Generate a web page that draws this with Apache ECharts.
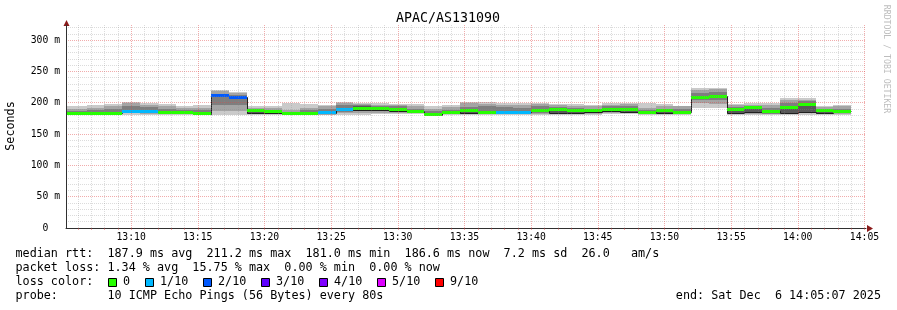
<!DOCTYPE html>
<html><head><meta charset="utf-8">
<script src="https://cdn.jsdelivr.net/npm/echarts@6/dist/echarts.min.js"></script>
<style>html,body{margin:0;padding:0;background:#fff}#c{width:897px;height:310px}</style>
</head><body><div id="c"></div>
<script>
// time in seconds after 13:00:00; each value is the end of an 80 s step
const binEnd = [400,480,560,640,720,800,880,960,1040,1120,1200,1280,1360,1440,1520,1600,1680,1760,1840,1920,2000,2080,2160,2240,2320,2400,2480,2560,2640,2720,2800,2880,2960,3040,3120,3200,3280,3360,3440,3520,3600,3680,3760,3840];
// median rtt (ms)
const median = [183.5,183.5,183.5,186,186,185,184,183,211.2,208.5,187.5,185.5,183,183,184,188.5,190.5,191.5,189.5,186,181.0,185,188,185,184.7,184.7,187,188.8,188,187.8,189.5,188.8,185,187.5,185,208.5,210,189.5,192.5,186,193,197.5,188,186.6];
// lost pings out of 10
const loss = [0,0,0,1,1,0,0,0,2,2,0,0,0,0,1,1,0,0,0,0,0,0,0,0,1,1,0,0,0,0,0,0,0,0,0,0,0,0,0,0,0,0,0,0];
// smoke: outer band (lightest)
const smokeLo = [180,180,180,181,181,181,181,180,180,180,181,181,180,180,180.5,181,181,182,182.5,182,181,181,181,181,181,181,181,181,181,181,182,182,181,181,181,192,191,181,181,181,181,181,181,181];
const smokeHi = [194,196,198,201,199,198,195,197,220,217,195.5,195,199.5,198,197,201,200,199,198.5,198.5,194,196,201,201,200,200,200,198,198,197,199,200,199.5,198,195,223,224,198,199,199,207.5,207.5,195.5,197];
// second band
const midLo = [181,181,181,183,182,182,182,181,186,186,182,182,181,181,181,183,183,183,183.5,183,182,182,182,182,182,182,182,182,182,182,183,183,182,182,182,199,198,182,182,182,182,183,182,182];
const midHi = [190,192,194,199,197,194,192,192,218,215,192,191,188,192,194,199,198,197,196,195,190,193,199,198,197,197,198,196,195,194,197,198,192,194,194,221,222,196,197,196,205,205,193,194];
// third band
const darkLo = [182,182,182,185,184,183,183,181,196,196,182.5,182.5,181.5,182,183,185,186,186,186,184,182,183,182,183,184,184,183.5,183,183,183,185,185,183,183,183,204,204,183,183,182.5,183,185,182.5,183];
const darkHi = [186,188,190,195,193,190,188,189,214,212,189,188,185,189,190,196,196,194,194,190,186,189,193,194,193,192,195,193,191,190,195,195,188,190,190,216,217,193,195,192,200,202,190,190];
// innermost band (darkest)
const coreLo = [182.5,182.5,182.5,184,184,183.5,183,182,209,206,183,183,182,182,183,186,187,188,186.5,184.5,181,183.5,182.5,183.5,183.5,183.5,184.5,184,184,184,185,184.5,183.5,184,184,206,207,184,184.5,184,183,185,183,185];
const coreHi = [184.5,184.5,184.5,188,188,186.5,185,184,214,211,188,187,184,185,186,190,194,193,191,187.5,183,186.5,188,187,186,186,189,190,189.5,189,192,191,186.5,189,187,210,212,191,195,188,194,198,189.5,188.5];
// thin dark step line
const darkLine = [183.5,183.5,183.5,186,186,185,184,182,211.2,208.5,183,182.8,183,183,184,188.5,188.5,189,187,186,181,185,183.5,185,184.7,184.7,187,184,184,184.5,186,185,185,184,185,208.5,210,184,185,186,183.5,185.5,183.5,186.6];

const xTickSec = [600,900,1200,1500,1800,2100,2400,2700,3000,3300,3600,3900];
const xTickLabels = ['13:10','13:15','13:20','13:25','13:30','13:35','13:40','13:45','13:50','13:55','14:00','14:05'];
const yTickVals = [0,50,100,150,200,250,300];
const yTickLabels = ['0  ','50 m','100 m','150 m','200 m','250 m','300 m'];
const lossLegendLabels = ['0','1/10','2/10','3/10','4/10','5/10','9/10'];
const lossLegendColors = ['#26ff00','#00b8ff','#0059ff','#5e00ff','#7e00ff','#dd00ff','#ff0000'];
const lossColorByCount = ['#26ff00','#00b8ff','#0059ff','#5e00ff','#7e00ff','#dd00ff','#ff0000','#ff0000','#ff0000','#ff0000','#ff0000'];

const titleText = 'APAC/AS131090';
const legendLine1 = 'median rtt:  187.9 ms avg  211.2 ms max  181.0 ms min  186.6 ms now  7.2 ms sd  26.0   am/s';
const legendLine2 = 'packet loss: 1.34 % avg  15.75 % max  0.00 % min  0.00 % now';
const legendLine3 = 'loss color:';
const legendLine4 = 'probe:       10 ICMP Echo Pings (56 Bytes) every 80s';
const endText = 'end: Sat Dec  6 14:05:07 2025';

const X_MIN = 307, X_MAX = 3907, Y_MAX = 324;
const MONO = '"DejaVu Sans Mono", monospace';

const xGrid = []; for (let s = 360; s <= 3900; s += 60) xGrid.push(s);
const yGrid = []; for (let v = 0; v <= 320; v += 10) yGrid.push(v);
const MINOR = 'rgba(140,140,140,0.3)', MAJOR = 'rgba(225,70,70,0.45)';

function binStart(i) { return i === 0 ? X_MIN : binEnd[i - 1]; }

function band(name, lo, hi, color, z) {
  return {
    type: 'custom', name, z, silent: true,
    data: binEnd.map((e, i) => [binStart(i), e, lo[i], hi[i]]),
    encode: { x: [0, 1], y: [2, 3] },
    renderItem(params, api) {
      const a = api.coord([api.value(0), api.value(3)]);
      const b = api.coord([api.value(1), api.value(2)]);
      const x0 = Math.round(a[0]), x1 = Math.round(b[0]);
      const y0 = Math.round(a[1]), y1 = Math.round(b[1]);
      return { type: 'rect', shape: { x: x0, y: y0, width: x1 - x0, height: Math.max(0, y1 - y0) }, style: { fill: color } };
    }
  };
}

const series = [
  band('smoke1', smokeLo, smokeHi, '#cacaca', 2),
  band('smoke2', midLo, midHi, '#a4a4a4', 3),
  band('smoke3', darkLo, darkHi, '#7e7e7e', 4),
  band('smoke4', coreLo, coreHi, '#585858', 5),
  {
    type: 'custom', name: 'line', z: 6, silent: true,
    data: binEnd.map((e, i) => [binStart(i), e, darkLine[i], darkLine[i === 0 ? 0 : i - 1]]),
    encode: { x: [0, 1], y: [2, 3] },
    renderItem(params, api) {
      const a = api.coord([api.value(0), api.value(2)]);
      const b = api.coord([api.value(1), api.value(2)]);
      const p = api.coord([api.value(0), api.value(3)]);
      const x0 = Math.round(a[0]) + 0.5, x1 = Math.round(b[0]) + 0.5;
      const y = Math.round(a[1]) + 0.5, yp = Math.round(p[1]) + 0.5;
      return { type: 'group', children: [
        { type: 'line', shape: { x1: x0, y1: y, x2: x1, y2: y }, style: { stroke: '#202020', lineWidth: 1 } },
        { type: 'line', shape: { x1: x0, y1: yp, x2: x0, y2: y }, style: { stroke: '#202020', lineWidth: 1 } }
      ] };
    }
  },
  {
    type: 'custom', name: 'median', z: 7, silent: true,
    data: binEnd.map((e, i) => [binStart(i), e, median[i], loss[i]]),
    encode: { x: [0, 1], y: 2 },
    renderItem(params, api) {
      const a = api.coord([api.value(0), api.value(2)]);
      const b = api.coord([api.value(1), api.value(2)]);
      const x0 = Math.round(a[0]), x1 = Math.round(b[0]);
      const y0 = Math.round(a[1] - 1.5);
      return { type: 'rect', shape: { x: x0, y: y0, width: x1 - x0, height: 3 }, style: { fill: lossColorByCount[api.value(3)] } };
    }
  }
];

const graphics = [
  { type: 'text', x: 448, y: 19, style: { text: titleText, font: '13.3px ' + MONO, fill: '#000', align: 'center', verticalAlign: 'middle', textAlign: 'center', textVerticalAlign: 'middle' } },
  { type: 'text', x: 11, y: 126, rotation: Math.PI / 2, style: { text: 'Seconds', font: '11.75px ' + MONO, fill: '#000', align: 'center', verticalAlign: 'middle', textAlign: 'center', textVerticalAlign: 'middle' } },
  { type: 'text', x: 886, y: 59, rotation: -Math.PI / 2, style: { text: 'RRDTOOL / TOBI OETIKER', font: '8.2px ' + MONO, fill: '#bdbdbd', align: 'center', verticalAlign: 'middle', textAlign: 'center', textVerticalAlign: 'middle' } },
  { type: 'polygon', shape: { points: [[867, 225], [873, 228.5], [867, 232]] }, style: { fill: '#8b1a1a' } },
  { type: 'polygon', shape: { points: [[63.5, 26], [66.5, 20], [69.5, 26]] }, style: { fill: '#8b1a1a' } }
];
const legendYs = [254.3, 268.3, 282.3, 296.3];
[legendLine1, legendLine2, legendLine3, legendLine4].forEach((t, i) => {
  graphics.push({ type: 'text', x: 15.5, y: legendYs[i], style: { text: t, font: '11.75px ' + MONO, fill: '#000', align: 'left', verticalAlign: 'middle', textAlign: 'left', textVerticalAlign: 'middle' } });
});
graphics.push({ type: 'text', x: 881, y: legendYs[3], style: { text: endText, font: '11.75px ' + MONO, fill: '#000', align: 'right', verticalAlign: 'middle', textAlign: 'right', textVerticalAlign: 'middle' } });
const boxX = [108.5, 145.5, 203.5, 261.5, 319.5, 377.5, 435.5];
lossLegendLabels.forEach((lab, i) => {
  graphics.push({ type: 'rect', shape: { x: boxX[i], y: 278.5, width: 8, height: 8 }, style: { fill: lossLegendColors[i], stroke: '#000', lineWidth: 1 } });
  graphics.push({ type: 'text', x: boxX[i] + 14.5, y: legendYs[2], style: { text: lab, font: '11.75px ' + MONO, fill: '#000', align: 'left', verticalAlign: 'middle', textAlign: 'left', textVerticalAlign: 'middle' } });
});

const chart = echarts.init(document.getElementById('c'), null, { renderer: 'canvas' });
chart.setOption({
  animation: false,
  backgroundColor: '#ffffff',
  grid: { left: 66, top: 25, width: 800, height: 203, containLabel: false },
  xAxis: {
    type: 'value', min: X_MIN, max: X_MAX, z: 10,
    axisLine: { show: true, onZero: false, lineStyle: { color: '#303030', width: 1 } },
    axisTick: { show: true, customValues: xGrid, length: 2, lineStyle: { color: MAJOR } },
    axisLabel: {
      customValues: xTickSec, margin: 4, color: '#000', fontFamily: 'DejaVu Sans Mono', fontSize: 9.75,
      formatter: v => { const i = xTickSec.indexOf(v); return i >= 0 ? xTickLabels[i] : ''; }
    },
    splitLine: { show: true, lineStyle: { color: [MINOR, MINOR, MINOR, MINOR, MAJOR], type: [1, 1], width: 1 } }
  },
  yAxis: {
    type: 'value', min: 0, max: Y_MAX, z: 10,
    axisLine: { show: true, onZero: false, lineStyle: { color: '#303030', width: 1 } },
    axisTick: { show: false, customValues: yGrid },
    axisLabel: {
      customValues: yTickVals, margin: 6, color: '#000', fontFamily: 'DejaVu Sans Mono', fontSize: 9.75,
      formatter: v => { const i = yTickVals.indexOf(v); return i >= 0 ? yTickLabels[i] : ''; }
    },
    splitLine: { show: true, lineStyle: { color: [MAJOR, MINOR, MINOR, MINOR, MINOR], type: [1, 1], width: 1 } }
  },
  series,
  graphic: { elements: graphics }
});
</script>
</body></html>
